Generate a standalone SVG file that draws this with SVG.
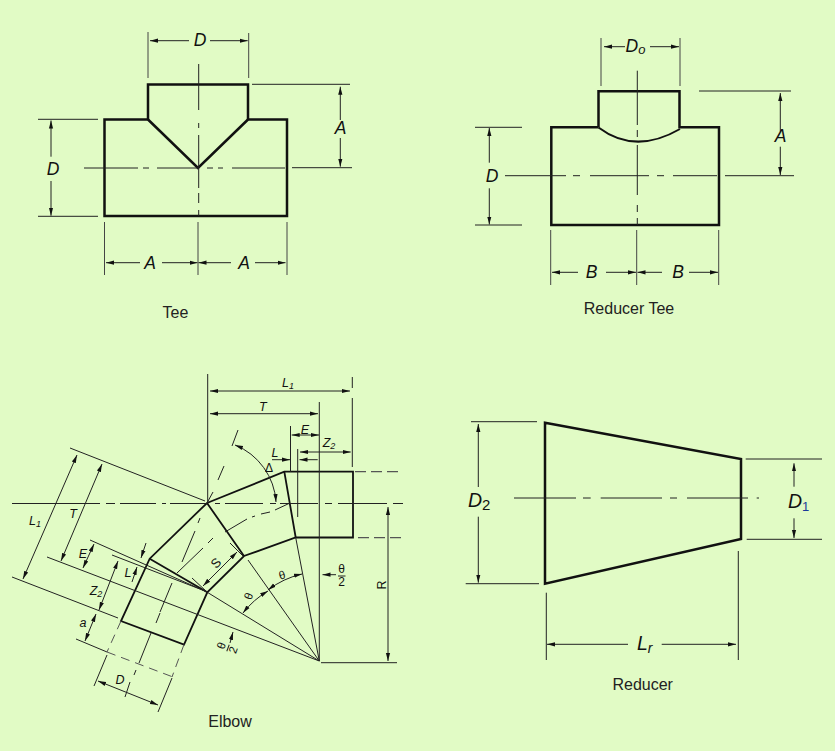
<svg xmlns="http://www.w3.org/2000/svg" width="835" height="751" viewBox="0 0 835 751">
<style>
.k{fill:none;stroke:#111;stroke-width:2.5;stroke-linejoin:miter}
.t{fill:none;stroke:#222;stroke-width:1}
.g{fill:none;stroke:#444;stroke-width:1}
.d{fill:none;stroke:#555;stroke-width:1.2;stroke-dasharray:11 5}
.a{fill:none;stroke:#222;stroke-width:1;marker-end:url(#h)}
.b{fill:none;stroke:#222;stroke-width:1;marker-start:url(#h);marker-end:url(#h)}
text{font-family:"Liberation Sans",Arial,sans-serif;fill:#111}
.i{font-style:italic;font-size:17.5px;text-anchor:middle}
.s{font-style:italic;font-size:12.5px;text-anchor:middle}
.u{font-size:11.5px;text-anchor:middle}
.c{font-size:16px;text-anchor:middle;fill:#222}
</style>
<defs>
<marker id="h" markerUnits="userSpaceOnUse" markerWidth="10" markerHeight="6" refX="8" refY="3" orient="auto-start-reverse"><path d="M0,0.9 L8,3 L0,5.1 Z" fill="#111"/></marker>
</defs>
<rect width="835" height="751" fill="#E1FBC5"/>

<g id="tee">
<path class="k" d="M104.5,119.5 H148 V84.5 H248 V119.5 H287 V216 H104.5 Z"/>
<path class="k" d="M148,119.5 L198,168 L248,119.5"/>
<path class="t" d="M84,168 H138 M143,168 H149 M157,168 H198 M207,168 H213 M218,168 H223 M232,168 H285 M198.7,64 V110 M198.7,123 V128 M198.7,135 V188 M198.7,193 V203 M198.7,210 V216"/>
<path class="t" d="M252,84.3 H350 M292,167.7 H352 M38,119.3 H98 M38,216.3 H98"/>
<path class="g" d="M148,32 V78 M248.7,33 V78 M104.5,222 V275 M198,222 V275 M287,222 V275"/>
<path class="a" d="M189,40.7 H150"/><path class="a" d="M210,40.7 H247.7"/>
<path class="a" d="M340.3,120 V86.7"/><path class="a" d="M340.3,138 V166.7"/>
<path class="a" d="M51,156.7 V120.5"/><path class="a" d="M51,181 V215.7"/>
<path class="a" d="M140,262.7 H106"/><path class="a" d="M162,262.7 H197.5"/><path class="a" d="M231,262.7 H198.5"/><path class="a" d="M255,262.7 H285.5"/>
<text class="i" x="200" y="45.5">D</text>
<text class="i" x="340.5" y="133.5">A</text>
<text class="i" x="53" y="174.5">D</text>
<text class="i" x="150" y="268.5">A</text>
<text class="i" x="244" y="268.5">A</text>
<text class="c" x="175.5" y="318">Tee</text>
</g>

<g id="reducer-tee">
<path class="k" d="M598.5,127.3 V91.3 H679.5 V127.3 H719 V225 H551.3 V127.3 H598.5"/>
<path class="k" style="stroke-width:2" d="M598.5,127.5 Q635,155 680,129"/>
<path class="t" d="M505,175.7 H566 M573,175.7 H580 M590,175.7 H649 M657,175.7 H664 M673,175.7 H717 M637.3,70.7 V125 M637.3,130 V137 M637.3,145 V195 M637.3,205 V212 M637.3,218 V225"/>
<path class="t" d="M699,91 H791 M725,175.7 H794 M475,127.3 H522 M475,225 H522"/>
<path class="g" d="M601,38 V86 M680,38 V86 M550.7,230 V285 M636.7,230 V285 M718.7,230 V285"/>
<path class="a" d="M625,46.7 H604"/><path class="a" d="M650,46.7 H679"/>
<path class="a" d="M780.3,131.7 V93"/><path class="a" d="M780.3,146.7 V175"/>
<path class="a" d="M489.3,162.7 V128"/><path class="a" d="M489.3,188.3 V224.5"/>
<path class="a" d="M578,272.3 H552"/><path class="a" d="M606,272.3 H636"/><path class="a" d="M662,272.3 H637.5"/><path class="a" d="M689,272.3 H718"/>
<text class="i" x="635.5" y="52">D<tspan font-size="13" dy="2">o</tspan></text>
<text class="i" x="780.5" y="141.5">A</text>
<text class="i" x="492" y="181.5">D</text>
<text class="i" x="591.5" y="277.5">B</text>
<text class="i" x="678" y="277.5">B</text>
<text class="c" x="629" y="314">Reducer Tee</text>
</g>

<g id="elbow">
<path class="k" style="stroke-width:1.8" d="M207,503 L284.3,471.7 H353 V537.5 H295.7 L244,556 L207.3,592.3 L184,644.5 L121,621 L149.7,558.7 Z"/>
<path class="k" style="stroke-width:1.8" d="M284.3,471.7 L295.7,537.5 M207,503 L244,556 M149.7,558.7 L207.3,592.3"/>
<path class="t" d="M12,503.5 H100 M106,503.5 H115 M120,503.5 H156 M162,503.5 H166 M170,503.5 H207 M215,503.5 H220 M225,503.5 H263 M270,503.5 H276 M280,503.5 H318 M325,503.5 H332 M338,503.5 H387 M393,503.5 H403"/>
<path class="t" d="M207.7,374 V503 M319.3,402 V661 M352.3,377 V388 M352.3,398 V467 M290.5,426 V472 M297.7,449 V517 M321,662.7 H397"/>
<path class="d" d="M355,471.7 H403 M358,537.7 H402"/>
<path class="t" d="M295.7,537.5 L319.3,661 M248,560 L319.3,661 M207.3,592.3 L319.3,661 M47,557 L319.3,661 M70,448 L205,501 M90,540 L207,592 M112,555 L205,591 M12,577 L118,618 M192,578 L207,592 M230,543 L243,556"/>
<path class="t" d="M238,430 L232,446 M224,466 L218,480 M213,492 L207,503 M200,518 L198,523 M195,531 L182,562 M172,583 L160,612 M160,613 L156,623 M151,633 L139,663 M136,670 L134,675 M130,682 L125,697"/>
<path class="t" d="M290,503 L275,510 M270,512 L261,514 M255,516 L252,517 M247,519 L225,532 M213,538 L208,543 M203,548 L177,573"/>
<path class="t" d="M76,639 L107,652 M107,655 L94,686 M172,678 L158,712"/>
<path class="d" style="stroke-width:1;stroke-dasharray:9 6" d="M121,621 L107,652 M107,652 L173,677 M184,644.5 L172,677"/>
<path class="b" d="M77,455 L23,579"/>
<path class="b" d="M102,464 L61,561"/>
<path class="b" d="M94,544 L83,568"/>
<path class="b" d="M118,561 L99,610"/>
<path class="b" d="M96,614 L85,641"/>
<path class="a" d="M132,582 L137,567"/>
<path class="a" d="M146,543 L141,558"/>
<path class="b" d="M98,681 L158,705"/>
<path class="b" d="M210,391 H350"/>
<path class="b" d="M210,413.7 H318"/>
<path class="b" d="M291.7,435 H319"/>
<path class="b" d="M300,452 H350.7"/>
<path class="a" d="M272,459.7 H290"/>
<path class="a" d="M317.7,459.7 H299.5"/>
<path class="b" d="M388,507 V661"/>
<path class="a" d="M336,574.7 H322.5"/>
<path class="b" d="M203,586 L237,552"/>
<path class="b" d="M235,445 A66,66 0 0 1 276,502"/>
<path class="b" d="M302,574 A89,89 0 0 0 268,590"/>
<path class="b" d="M268,591 A89,89 0 0 0 243,613"/>
<path class="a" d="M230,643 L233,632"/>
<text class="s" x="288" y="387">L<tspan font-size="9" dy="2">1</tspan></text>
<text class="s" x="262.7" y="410.5">T</text>
<text class="s" x="305" y="433.5">E</text>
<text class="s" x="329" y="446.5">Z<tspan font-size="9" dy="2">2</tspan></text>
<text class="s" x="275" y="456.5">L</text>
<text class="s" x="35" y="525">L<tspan font-size="9" dy="2">1</tspan></text>
<text class="s" x="73" y="517.5">T</text>
<text class="s" x="83" y="557.5">E</text>
<text class="s" x="128" y="576.5">L</text>
<text class="s" x="96" y="595">Z<tspan font-size="9" dy="2">2</tspan></text>
<text class="s" x="83" y="627">a</text>
<text class="s" x="120" y="683.5">D</text>
<text class="u" x="269" y="472" style="font-size:12px">Δ</text>
<text class="u" x="0" y="0" transform="translate(216,563) rotate(-45) translate(0,4.5)" style="font-size:13px">S</text>
<text class="u" x="0" y="0" transform="translate(381,585) rotate(-90) translate(0,4.5)" style="font-size:12.5px">R</text>
<text class="u" x="0" y="0" transform="translate(282,575) rotate(-15) translate(0,4)">θ</text>
<text class="u" x="0" y="0" transform="translate(248.5,596) rotate(-70) translate(0,4)">θ</text>
<text class="u" x="341.7" y="573" style="font-size:12px">θ</text>
<path class="t" d="M338,576 H345.5"/>
<text class="u" x="341.7" y="586" style="font-size:12px">2</text>
<g transform="translate(228,648) rotate(-70)">
<text class="u" x="0" y="-3">θ</text>
<path class="t" d="M-3.5,0 H3.5"/>
<text class="u" x="0" y="9.5">2</text>
</g>
<text class="c" x="230" y="727">Elbow</text>
</g>

<g id="reducer">
<path class="k" d="M545,422.7 L741,459 V539 L545,583.7 Z"/>
<path class="t" d="M514,498 H576 M583,498 H590.7 M600.7,498 H662 M670,498 H677 M687,498 H748 M756.7,498 H759"/>
<path class="t" d="M471,421.7 H537 M465.7,583.7 H539 M745.7,459 H822 M746.7,539.3 H822 M546.3,592.7 V660 M738.3,551 V660"/>
<path class="a" d="M478.3,487 V424"/><path class="a" d="M478.3,516.7 V582.7"/>
<path class="a" d="M794,486.7 V463.3"/><path class="a" d="M794,518.3 V538"/>
<path class="a" d="M628,644.3 H547"/><path class="a" d="M661.7,644.3 H736"/>
<text x="468" y="507" style="font-size:19.5px;font-style:italic">D<tspan font-size="15" dy="3" style="font-style:normal">2</tspan></text>
<text x="788" y="508" style="font-size:19.5px;font-style:italic">D<tspan font-size="13" dy="3" fill="#1a3a9a" style="font-style:normal">1</tspan></text>
<text x="637" y="650" style="font-size:19.5px;font-style:italic">L<tspan font-size="14" dy="3">r</tspan></text>
<text class="c" x="642.7" y="690">Reducer</text>
</g>
</svg>
